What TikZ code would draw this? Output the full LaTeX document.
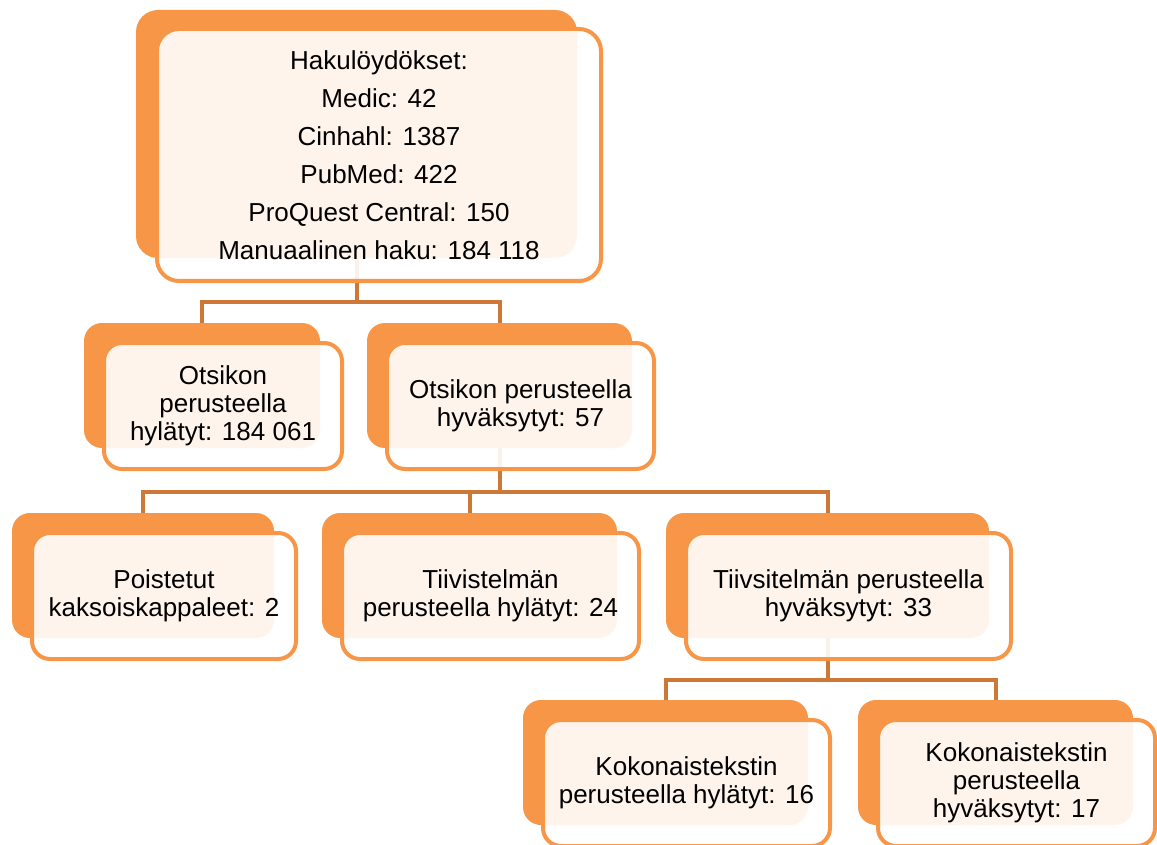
\documentclass[tikz,border=0pt]{standalone}
\usepackage{fontspec}
\setmainfont{Liberation Sans}
\definecolor{oranssi}{RGB}{247,150,70}
\definecolor{ruskea}{RGB}{205,120,55}

\begin{document}
\begin{tikzpicture}[x=1pt, y=-1pt,
    takana/.style={fill=oranssi, rounded corners=18pt, inner sep=0pt},
    edessa/.style={draw=oranssi, line width=4pt, fill=white, fill opacity=0.9,
        text opacity=1, rounded corners=18pt, align=center, inner sep=0pt,
        font=\fontsize{26}{28}\selectfont},
    viiva/.style={draw=ruskea, line width=4pt}]
    \useasboundingbox (0,0) rectangle (1157,845);

    % Back boxes
    \node[takana, minimum width=441pt, minimum height=248pt, rounded corners=22pt] (hakuT) at (356.5,134) {};
    \node[takana, minimum width=236pt, minimum height=125pt] (otsHylT) at (202,385.5) {};
    \node[takana, minimum width=265pt, minimum height=125pt] (otsHyvT) at (499.5,385.5) {};
    \node[takana, minimum width=262pt, minimum height=125pt] (poistT) at (143,575.5) {};
    \node[takana, minimum width=295pt, minimum height=125pt] (tiivHylT) at (469.5,575.5) {};
    \node[takana, minimum width=323pt, minimum height=125pt] (tiivHyvT) at (827.5,575.5) {};
    \node[takana, minimum width=285pt, minimum height=125pt] (kokHylT) at (665.5,762.5) {};
    \node[takana, minimum width=275pt, minimum height=125pt] (kokHyvT) at (995.5,762.5) {};

    % Connectors
    \coordinate (vali1) at (hakuT.south |- 0,302);
    \coordinate (vali2) at (otsHyvT.south |- 0,492);
    \coordinate (vali3) at (tiivHyvT.south |- 0,680);
    \draw[viiva] (hakuT.south) -- (vali1);
    \draw[viiva] (otsHylT.north) |- (vali1) -| (otsHyvT.north);
    \draw[viiva] (otsHyvT.south) -- (vali2);
    \draw[viiva] (poistT.north) |- (vali2) -| (tiivHyvT.north);
    \draw[viiva] (tiivHylT.north) -- (tiivHylT.north |- vali2);
    \draw[viiva] (tiivHyvT.south) -- (vali3);
    \draw[viiva] (kokHylT.north) |- (vali3) -| (kokHyvT.north);

    % Front boxes with the texts
    \node[edessa, minimum width=444pt, minimum height=252pt, rounded corners=22pt,
        font=\fontsize{26}{38}\selectfont] (haku) at ([shift={(22.5,21)}]hakuT.center)
        {Hakulöydökset:\\ Medic: 42\\ Cinhahl: 1387\\ PubMed: 422\\ ProQuest Central: 150\\ Manuaalinen haku: 184 118};
    \node[edessa, minimum width=238pt, minimum height=126pt] (otsHyl) at ([shift={(21,20.5)}]otsHylT.center)
        {Otsikon\\ perusteella\\ hylätyt: 184 061};
    \node[edessa, minimum width=267pt, minimum height=126pt] (otsHyv) at ([shift={(21,20.5)}]otsHyvT.center)
        {Otsikon perusteella\\ hyväksytyt: 57};
    \node[edessa, minimum width=264pt, minimum height=126pt] (poist) at ([shift={(21,20.5)}]poistT.center)
        {Poistetut\\ kaksoiskappaleet: 2};
    \node[edessa, minimum width=297pt, minimum height=126pt] (tiivHyl) at ([shift={(21,20.5)}]tiivHylT.center)
        {Tiivistelmän\\ perusteella hylätyt: 24};
    \node[edessa, minimum width=325pt, minimum height=126pt] (tiivHyv) at ([shift={(21,20.5)}]tiivHyvT.center)
        {Tiivsitelmän perusteella\\ hyväksytyt: 33};
    \node[edessa, minimum width=287pt, minimum height=126pt] (kokHyl) at ([shift={(21,20.5)}]kokHylT.center)
        {Kokonaistekstin\\ perusteella hylätyt: 16};
    \node[edessa, minimum width=277pt, minimum height=126pt] (kokHyv) at ([shift={(21,20.5)}]kokHyvT.center)
        {Kokonaistekstin\\ perusteella\\ hyväksytyt: 17};
\end{tikzpicture}
\end{document}
